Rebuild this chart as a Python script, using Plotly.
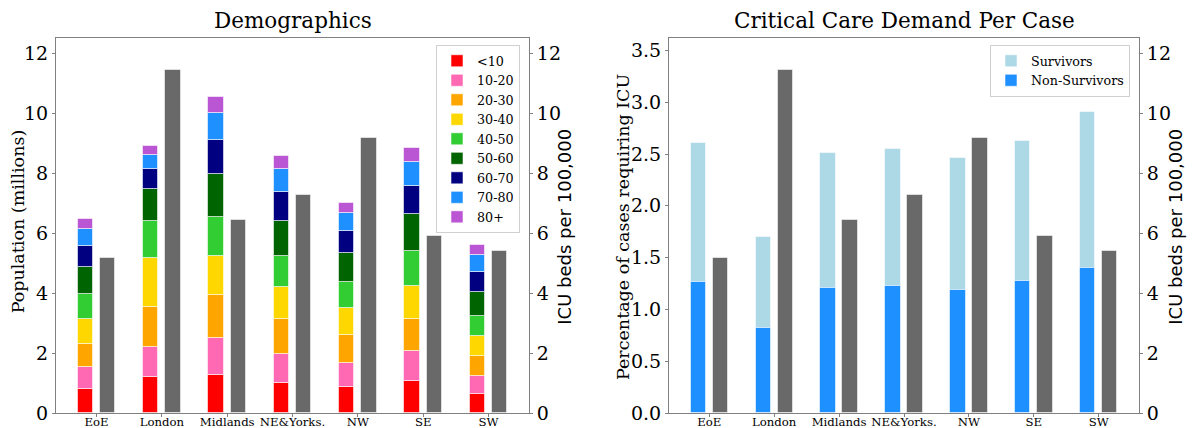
import numpy as np
import plotly.graph_objects as go

# ---------------- data ----------------
regions = ["EoE", "London", "Midlands", "NE&Yorks.", "NW", "SE", "SW"]
age_labels = ["<10", "10-20", "20-30", "30-40", "40-50", "50-60", "60-70", "70-80", "80+"]
age_colors = ["#ff0000", "#ff69b4", "#ffa500", "#ffd700", "#32cd32",
              "#006400", "#000080", "#1e90ff", "#ba55d3"]

# population per age band (millions)
pop_00_10 = [0.80, 1.20, 1.27, 1.00, 0.86, 1.06, 0.62]
pop_10_20 = [0.73, 1.00, 1.24, 0.98, 0.81, 1.02, 0.61]
pop_20_30 = [0.76, 1.34, 1.41, 1.15, 0.93, 1.05, 0.67]
pop_30_40 = [0.83, 1.63, 1.31, 1.06, 0.90, 1.10, 0.66]
pop_40_50 = [0.85, 1.24, 1.31, 1.04, 0.87, 1.17, 0.68]
pop_50_60 = [0.89, 1.05, 1.43, 1.18, 0.96, 1.23, 0.79]
pop_60_70 = [0.71, 0.68, 1.13, 0.97, 0.75, 0.95, 0.67]
pop_70_80 = [0.56, 0.46, 0.90, 0.74, 0.59, 0.79, 0.56]
pop_80_up = [0.35, 0.30, 0.52, 0.44, 0.33, 0.46, 0.33]

# ICU beds per 100,000
icu_beds = [5.18, 11.42, 6.43, 7.26, 9.16, 5.89, 5.40]

# percentage of cases requiring ICU
non_survivors = [1.26, 0.82, 1.21, 1.23, 1.19, 1.27, 1.40]
survivors = [1.35, 0.88, 1.30, 1.32, 1.27, 1.36, 1.51]

# ---------------- figure ----------------
SERIF = "DejaVu Serif"
SANS = "DejaVu Sans"
SPINE = "#808080"
W, H = 1192, 428

idx = np.arange(len(regions))
BW = 0.235
SHIFT = 0.17
EDGE = dict(color="rgba(255,255,255,0.55)", width=1)

fig = go.Figure()

pop_bands = [pop_00_10, pop_10_20, pop_20_30, pop_30_40, pop_40_50,
             pop_50_60, pop_60_70, pop_70_80, pop_80_up]
base = np.zeros(len(regions))
for lab, col, vals in zip(age_labels, age_colors, pop_bands):
    vals = np.array(vals)
    fig.add_trace(go.Bar(
        x=idx, y=vals, base=base.copy(), width=BW, offset=-SHIFT - BW / 2,
        marker=dict(color=col, line=EDGE), name=lab,
        xaxis="x", yaxis="y", legend="legend", hoverinfo="skip"))
    base = base + vals

fig.add_trace(go.Bar(
    x=idx, y=icu_beds, width=BW, offset=SHIFT - BW / 2,
    marker=dict(color="#696969", line=EDGE), showlegend=False,
    xaxis="x", yaxis="y2", hoverinfo="skip"))

fig.add_trace(go.Bar(
    x=idx, y=survivors, base=non_survivors, width=BW, offset=-SHIFT - BW / 2,
    marker=dict(color="#add8e6", line=EDGE), name="Survivors",
    xaxis="x2", yaxis="y3", legend="legend2", hoverinfo="skip"))
fig.add_trace(go.Bar(
    x=idx, y=non_survivors, width=BW, offset=-SHIFT - BW / 2,
    marker=dict(color="#1e90ff", line=EDGE), name="Non-Survivors",
    xaxis="x2", yaxis="y3", legend="legend2", hoverinfo="skip"))
fig.add_trace(go.Bar(
    x=idx, y=icu_beds, width=BW, offset=SHIFT - BW / 2,
    marker=dict(color="#696969", line=EDGE), showlegend=False,
    xaxis="x2", yaxis="y4", hoverinfo="skip"))

x1 = [56 / W, 529 / W]
x2 = [669 / W, 1139 / W]
ydom = [1 - 413 / H, 1 - 38 / H]

common_x = dict(
    range=[-0.62, 6.62], tickmode="array", tickvals=idx, ticktext=regions,
    showline=True, linecolor=SPINE, linewidth=1, mirror=True,
    ticks="outside", ticklen=3, tickcolor=SPINE, ticklabelstandoff=-5,
    tickfont=dict(family=SERIF, size=11.7, color="black"),
    showgrid=False, zeroline=False, automargin=False, fixedrange=True)
common_y = dict(
    showline=True, linecolor=SPINE, linewidth=1,
    ticks="outside", ticklen=3, tickcolor=SPINE,
    tickfont=dict(family=SERIF, size=19, color="black"),
    showgrid=False, zeroline=False, automargin=False, fixedrange=True)

fig.update_layout(
    width=W, height=H,
    margin=dict(l=0, r=0, t=0, b=0),
    paper_bgcolor="white", plot_bgcolor="white",
    barmode="overlay", bargap=0,
    xaxis=dict(domain=x1, anchor="y", **common_x),
    xaxis2=dict(domain=x2, anchor="y3", **common_x),
    yaxis=dict(domain=ydom, anchor="x", range=[0, 12.5],
               tickvals=[0, 2, 4, 6, 8, 10, 12], side="left", **common_y),
    yaxis2=dict(domain=ydom, anchor="x", overlaying="y", side="right",
                range=[0, 12.5], tickvals=[0, 2, 4, 6, 8, 10, 12], **common_y),
    yaxis3=dict(domain=ydom, anchor="x2", range=[0, 3.62],
                tickvals=[0, 0.5, 1, 1.5, 2, 2.5, 3, 3.5], tickformat=".1f",
                side="left", **common_y),
    yaxis4=dict(domain=ydom, anchor="x2", overlaying="y3", side="right",
                range=[0, 12.5], tickvals=[0, 2, 4, 6, 8, 10, 12], **common_y),
    legend=dict(x=436 / W, y=1 - 45 / H, xanchor="left", yanchor="top",
                bgcolor="white", bordercolor="#d0d0d0", borderwidth=1,
                traceorder="normal",
                font=dict(family=SERIF, size=12.7, color="black")),
    legend2=dict(x=990 / W, y=1 - 45 / H, xanchor="left", yanchor="top",
                 bgcolor="white", bordercolor="#d0d0d0", borderwidth=1,
                 traceorder="normal",
                 font=dict(family=SERIF, size=12.7, color="black")),
    showlegend=True,
)

annos = [
    dict(text="Demographics", x=(56 + 529) / 2 / W, y=1 - 20 / H,
         font=dict(family=SERIF, size=21.5, color="black"), textangle=0),
    dict(text="Critical Care Demand Per Case", x=(669 + 1139) / 2 / W, y=1 - 20 / H,
         font=dict(family=SERIF, size=21.5, color="black"), textangle=0),
    dict(text="Population (millions)", x=18.3 / W, y=1 - 221 / H,
         font=dict(family=SERIF, size=17.5, color="black"), textangle=-90),
    dict(text="ICU beds per 100,000", x=565 / W, y=1 - 226.7 / H,
         font=dict(family=SANS, size=18, color="black"), textangle=-90),
    dict(text="Percentage of cases requiring ICU", x=623 / W, y=1 - 227 / H,
         font=dict(family=SERIF, size=17.5, color="black"), textangle=-90),
    dict(text="ICU beds per 100,000", x=1176 / W, y=1 - 226.7 / H,
         font=dict(family=SANS, size=18, color="black"), textangle=-90),
]
for a in annos:
    fig.add_annotation(xref="paper", yref="paper", showarrow=False,
                       xanchor="center", yanchor="middle", **a)

fig.write_html("out.html", config={"displayModeBar": False},
               post_script="document.body.style.margin='0px';")
